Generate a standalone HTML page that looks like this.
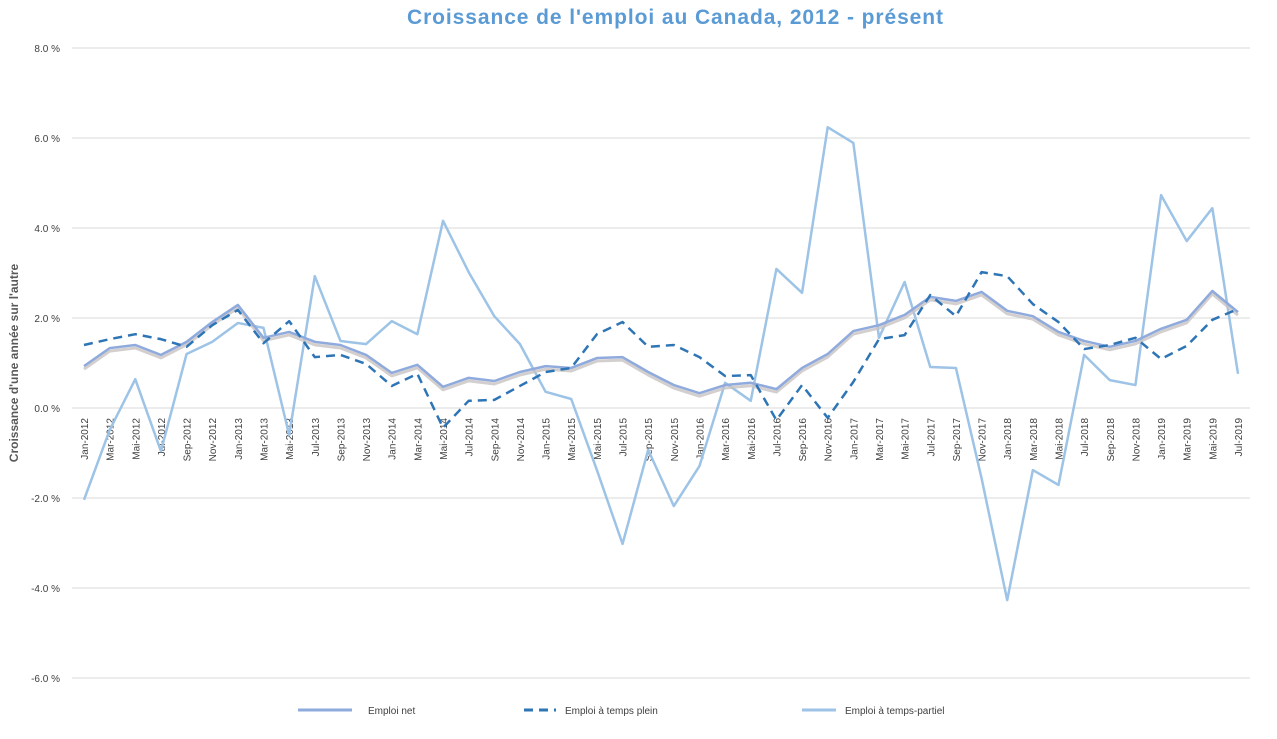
<!DOCTYPE html>
<html><head><meta charset="utf-8"><style>
body{margin:0;background:#fff;font-family:"Liberation Sans",sans-serif}
svg text{font-family:"Liberation Sans",sans-serif}
</style></head><body>
<svg id="c" width="1277" height="734">
<text x="675" y="24" text-anchor="middle" font-size="21" font-weight="bold" fill="#5b9bd5" textLength="536">Croissance de l'emploi au Canada, 2012 - présent</text>
<text transform="translate(18,363) rotate(-90)" text-anchor="middle" font-size="12" font-weight="bold" fill="#595959">Croissance d'une année sur l'autre</text>
<g id="grid"></g><g id="xl"></g><g id="series"></g>
<g>
<line x1="298" y1="710" x2="352" y2="710" stroke="#8faadc" stroke-width="3"/>
<text x="368" y="714" font-size="10" fill="#404040">Emploi net</text>
<line x1="524" y1="710" x2="556" y2="710" stroke="#2e75b6" stroke-width="3" stroke-dasharray="9,6"/>
<text x="565" y="714" font-size="10" fill="#404040">Emploi à temps plein</text>
<line x1="802" y1="710" x2="836" y2="710" stroke="#9dc3e6" stroke-width="3"/>
<text x="845" y="714" font-size="10" fill="#404040">Emploi à temps-partiel</text>
</g>
</svg>
<script>
const months=["Jan","Mar","Mai","Jul","Sep","Nov"];
const categories=[];
for(let y=2012;y<=2018;y++)for(const m of months)categories.push(m+"-"+y);
["Jan","Mar","Mai","Jul"].forEach(m=>categories.push(m+"-2019"));
const yTicks=[8,6,4,2,0,-2,-4,-6];
const netValues=[0.93,1.33,1.4,1.18,1.47,1.91,2.29,1.56,1.69,1.47,1.4,1.18,0.78,0.96,0.47,0.67,0.6,0.8,0.93,0.89,1.11,1.13,0.8,0.51,0.33,0.51,0.56,0.42,0.89,1.2,1.71,1.84,2.07,2.47,2.38,2.58,2.16,2.04,1.69,1.49,1.36,1.49,1.76,1.96,2.6,2.13];
const fullValues=[1.4,1.53,1.64,1.53,1.36,1.84,2.18,1.44,1.93,1.13,1.18,0.98,0.49,0.76,-0.44,0.16,0.18,0.49,0.8,0.89,1.64,1.91,1.36,1.4,1.13,0.71,0.73,-0.27,0.51,-0.22,0.58,1.53,1.62,2.51,2.04,3.02,2.93,2.31,1.91,1.31,1.4,1.56,1.09,1.38,1.96,2.2];
const partValues=[-2.04,-0.49,0.64,-0.96,1.2,1.47,1.89,1.78,-0.6,2.93,1.49,1.42,1.93,1.64,4.16,3.02,2.04,1.42,0.36,0.2,-1.38,-3.02,-0.93,-2.18,-1.29,0.56,0.16,3.09,2.56,6.24,5.89,1.56,2.8,0.91,0.89,-1.56,-4.27,-1.38,-1.71,1.18,0.62,0.51,4.73,3.71,4.44,0.76];
const NS="http://www.w3.org/2000/svg";
const X=i=>84+i*(1238-84)/(categories.length-1);
const Y=v=>408-v*45;
function mk(t,a,p){const e=document.createElementNS(NS,t);for(const k in a)e.setAttribute(k,a[k]);p.appendChild(e);return e;}
const grid=document.getElementById('grid');
yTicks.forEach(t=>{
 const l=mk('line',{x1:72,x2:1250,y1:Y(t),y2:Y(t),stroke:'#d9d9d9','stroke-width':1},grid);
 
 
 const tx=mk('text',{x:60,y:Y(t)+4,'text-anchor':'end','font-size':10,fill:'#404040'},grid);
 tx.textContent=t.toFixed(1)+" %";
 
 
});
const xl=document.getElementById('xl');
categories.forEach((c,i)=>{
 const t=mk('text',{transform:`translate(${X(i)+4},418) rotate(-90)`,'text-anchor':'end','font-size':10,fill:'#404040'},xl);
 t.textContent=c;
 
 
});
const sg=document.getElementById('series');
function line(vals,attrs,name,dy){
 const pts=vals.map((v,i)=>X(i)+","+(Y(v)+(dy||0))).join(" ");
 const p=mk('polyline',Object.assign({points:pts,fill:'none','stroke-linejoin':'round'},attrs),sg);
 
 
}
line(partValues,{stroke:'#9dc3e6','stroke-width':2.5},'series-temps-partiel');
line(netValues,{stroke:'#c9c3c3','stroke-width':3,opacity:0.8},'series-emploi-net-shadow',3);
line(netValues,{stroke:'#8faadc','stroke-width':2.5},'series-emploi-net');
line(fullValues,{stroke:'#2e75b6','stroke-width':2.5,'stroke-dasharray':'9,6'},'series-temps-plein');
</script>
</body></html>
